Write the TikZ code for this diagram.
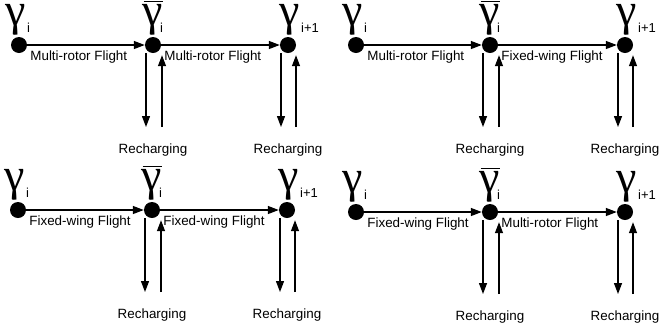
\documentclass[tikz,border=0pt]{standalone}
\usepackage{fontspec}
\setmainfont{Liberation Sans}
\newfontfamily\gfont{Liberation Serif}
\usetikzlibrary{arrows.meta,positioning}
\tikzset{
  state/.style={circle,fill=black,inner sep=0pt,minimum size=16pt},
  flow/.style={line width=1.3pt,-{Triangle[length=11pt,width=8pt]}},
  gam/.style={font=\gfont\fontsize{46}{46}\selectfont,inner sep=0pt},
  idx/.style={font=\fontsize{13}{14}\selectfont,inner sep=0pt,anchor=base west},
  lbl/.style={font=\fontsize{13.4}{14}\selectfont,inner sep=0pt},
}
% one panel: origin of first state, then the two flight modes
\def\flightpanel(#1,#2)#3#4{
  \begin{scope}[shift={(#1,#2)}]
    \node[state] (a) at (0,0) {};
    \node[state] (b) at (134,0) {};
    \node[state] (c) at (269,0) {};
    \node[gam] (ga) at (-3,-25) {γ};
    \node[gam] (gb) at (134,-25) {γ};
    \node[gam] (gc) at (271,-25) {γ};
    \draw[line width=1.7pt] ([shift={(1,-3)}]gb.north west) -- ([shift={(0,-3)}]gb.north east);
    \node[idx] (ia) at (8,-13) {i};
    \node[idx] (ib) at (141,-13) {i};
    \node[idx] (ic) at (282,-13) {i+1};
    % flights
    \draw[flow] (a) -- (b);
    \draw[flow] (b) -- (c);
    \node[lbl,anchor=base west] (fab) at ([shift={(3,15)}]a.east) {#3};
    \node[lbl,anchor=base west] (fbc) at ([shift={(3,15)}]b.east) {#4};
    % recharging
    \coordinate (bd) at ([shift={(-7,82)}]b);
    \coordinate (bu) at ([shift={(9,82)}]b);
    \coordinate (cd) at ([shift={(-7,82)}]c);
    \coordinate (cu) at ([shift={(8,82)}]c);
    \draw[flow] ([xshift=-7pt]b.south) -- (bd);
    \draw[flow] (bu) -- ([shift={(9,2)}]b.south);
    \draw[flow] ([xshift=-7pt]c.south) -- (cd);
    \draw[flow] (cu) -- ([shift={(8,2)}]c.south);
    \node[lbl,anchor=base] (rb) at ([shift={(0,108)}]b) {Recharging};
    \node[lbl,anchor=base] (rc) at ([shift={(0,108)}]c) {Recharging};
  \end{scope}
}

\begin{document}
\begin{tikzpicture}[x=1pt,y=-1pt]
  \useasboundingbox (0,0) rectangle (659,333);

  \flightpanel(19,45){Multi-rotor Flight}{Multi-rotor Flight}
  \flightpanel(356,45){Multi-rotor Flight}{Fixed-wing Flight}
  \flightpanel(18,210){Fixed-wing Flight}{Fixed-wing Flight}
  \flightpanel(356,212){Fixed-wing Flight}{Multi-rotor Flight}

\end{tikzpicture}
\end{document}
